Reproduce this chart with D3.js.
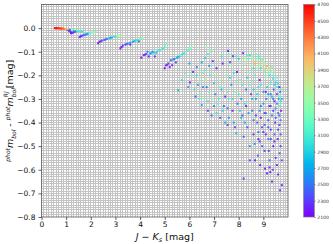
<!DOCTYPE html>
<html>
<head>
<meta charset="utf-8">
<script src="https://cdn.jsdelivr.net/npm/d3@7"></script>
<style>
  body { margin: 0; background: #fff; }
  text { font-family: "DejaVu Sans", sans-serif; }
</style>
</head>
<body>
<script>
// J-Ks colour, bolometric correction difference, effective temperature
let jk = [
  0.55, 0.6, 0.65, 0.7, 0.75, 0.8, 0.85, 0.9, 0.95, 1.0,
  1.1, 1.2, 1.3, 1.4, 1.5, 1.6, 1.65,
  1.05, 1.1, 1.15, 1.2, 1.25, 1.3, 1.35, 1.15, 1.2, 1.3, 1.4, 1.45,
  1.55, 1.6, 1.65, 1.7, 1.8, 1.9, 2.0, 2.1, 2.2,
  2.3, 2.35, 2.45, 2.55, 2.65, 2.75, 2.85, 2.95, 3.05, 3.15, 3.25,
  3.2, 3.3, 3.4, 3.5, 3.6, 3.7, 3.8, 3.9, 4.0, 4.1, 3.6, 3.95,
  4.05, 4.15, 4.25, 4.35, 4.45, 4.5, 4.65, 4.8, 4.95, 5.1, 5.15, 4.6, 4.3,
  5.0, 5.05, 5.15, 5.25, 5.3, 5.4, 5.5, 5.6, 5.7, 5.8, 5.9, 6.0, 6.1, 5.45, 5.2,
  5.54, 5.7, 5.85, 6.02, 5.95, 6.1,
  6.15, 6.3, 6.5, 6.63, 6.75, 6.84, 6.2, 6.35, 6.45, 6.5, 6.4, 6.25, 6.55,
  6.6, 6.7, 6.75, 6.85, 6.9, 6.9, 6.95, 6.8, 6.65, 7.0, 6.95, 6.7,
  7.05, 7.1, 7.15, 7.2, 7.25, 7.3, 7.35, 7.4, 7.45, 7.5, 7.1, 7.4, 7.3, 7.45,
  7.57, 7.55, 7.6, 7.65, 7.7, 7.75, 7.77, 7.8, 7.85, 7.9, 7.93, 7.95, 7.6, 7.7, 7.85, 7.8, 7.65,
  8.05, 8.1, 8.18, 8.2, 8.15, 8.25, 8.3, 8.35, 8.4, 8.45, 8.45, 8.45, 8.4, 8.3, 8.2, 8.1, 8.35, 8.25, 8.05, 8.5, 8.5, 8.15,
  8.52, 8.55, 8.6, 8.6, 8.65, 8.66, 8.7, 8.7, 8.75, 8.75, 8.78, 8.8, 8.8, 8.85, 8.85, 8.87, 8.9, 8.9, 8.95, 8.95, 9.0, 9.0, 8.6, 8.7, 8.55, 8.65, 8.95, 8.9, 8.8, 8.6,
  9.05, 9.05, 9.07, 9.1, 9.1, 9.12, 9.15, 9.15, 9.15, 9.2, 9.2, 9.22, 9.25, 9.25, 9.25, 9.3, 9.3, 9.3, 9.35, 9.35, 9.35, 9.38, 9.4, 9.4, 9.42, 9.45, 9.45, 9.45, 9.48, 9.5, 9.5, 9.5, 9.1, 9.2, 9.35, 9.05, 9.28, 9.4,
  9.55, 9.55, 9.58, 9.6, 9.6, 9.6, 9.62, 9.65, 9.65, 9.66, 9.68, 9.68, 9.7, 9.75, 9.72, 9.75, 9.68, 9.7, 9.75,
  0.58, 0.68, 0.78, 0.88, 1.05, 1.25, 1.45, 1.55, 1.75, 1.85, 2.05, 2.15, 2.4, 2.6, 2.8, 3.0, 3.1, 3.25, 3.45, 3.75, 3.85, 4.05, 4.2, 4.4, 4.55, 4.7, 4.9, 5.0, 5.1, 5.35, 5.55, 5.75, 5.95, 6.05,
  7.6, 7.9, 8.0, 8.2, 8.3, 8.35, 8.55, 8.65, 8.7, 8.75, 8.8, 8.85, 8.9, 8.95, 9.0, 9.05, 9.1, 9.2, 9.25, 9.3, 9.4, 9.45, 9.55, 9.6, 9.65, 9.7,
  6.6, 6.8, 7.0, 7.2, 7.35, 7.55, 7.75, 7.9, 8.0, 8.1, 8.25, 8.4, 8.45, 8.55, 8.6, 8.75, 8.85, 8.9, 9.0, 9.1, 9.2, 9.3, 9.4, 9.5, 9.55, 9.6, 9.65, 9.7, 9.45, 9.3, 9.2, 9.0, 8.8, 9.05, 9.25, 9.55, 9.75,
  6.0, 6.3, 6.4, 6.55, 6.75, 7.0, 7.25, 7.55
];
let dmag = [
  0.0, 0.0, 0.0, -0.001, -0.001, -0.002, -0.002, -0.003, -0.003, -0.004,
  -0.005, -0.006, -0.008, -0.01, -0.012, -0.014, -0.016,
  -0.006, -0.01, -0.014, -0.018, -0.02, -0.018, -0.016, -0.008, -0.022, -0.012, -0.014, -0.012,
  -0.038, -0.034, -0.032, -0.03, -0.027, -0.024, -0.02, -0.017, -0.015,
  -0.064, -0.058, -0.053, -0.05, -0.046, -0.043, -0.04, -0.037, -0.034, -0.031, -0.03,
  -0.086, -0.074, -0.07, -0.066, -0.062, -0.058, -0.054, -0.05, -0.046, -0.042, -0.07, -0.056,
  -0.125, -0.114, -0.11, -0.12, -0.106, -0.1, -0.105, -0.093, -0.085, -0.064, -0.06, -0.12, -0.1,
  -0.17, -0.158, -0.15, -0.136, -0.157, -0.13, -0.125, -0.12, -0.112, -0.106, -0.096, -0.088, -0.08, -0.145, -0.165,
  -0.263, -0.22, -0.19, -0.23, -0.25, -0.2,
  -0.186, -0.165, -0.145, -0.127, -0.11, -0.1, -0.26, -0.24, -0.28, -0.326, -0.21, -0.29, -0.19,
  -0.3, -0.25, -0.35, -0.2, -0.37, -0.093, -0.3, -0.16, -0.22, -0.233, -0.14, -0.08,
  -0.28, -0.17, -0.32, -0.22, -0.38, -0.26, -0.15, -0.33, -0.4, -0.2, -0.36, -0.24, -0.12, -0.29,
  -0.097, -0.41, -0.3, -0.144, -0.24, -0.35, -0.119, -0.19, -0.27, -0.445, -0.186, -0.32, -0.38, -0.16, -0.42, -0.4, -0.21,
  -0.22, -0.3, -0.106, -0.637, -0.37, -0.15, -0.26, -0.42, -0.13, -0.114, -0.5, -0.56, -0.19, -0.33, -0.46, -0.17, -0.21, -0.4, -0.35, -0.28, -0.16, -0.24,
  -0.12, -0.35, -0.14, -0.45, -0.2, -0.56, -0.13, -0.3, -0.17, -0.4, -0.54, -0.25, -0.12, -0.22, -0.48, -0.58, -0.15, -0.33, -0.135, -0.42, -0.27, -0.18, -0.26, -0.37, -0.23, -0.49, -0.5, -0.38, -0.44, -0.17,
  -0.15, -0.36, -0.595, -0.21, -0.45, -0.3, -0.615, -0.16, -0.25, -0.39, -0.19, -0.52, -0.33, -0.17, -0.56, -0.23, -0.43, -0.28, -0.165, -0.65, -0.37, -0.6, -0.2, -0.5, -0.26, -0.31, -0.18, -0.45, -0.4, -0.23, -0.55, -0.34, -0.27, -0.47, -0.29, -0.41, -0.61, -0.35,
  -0.21, -0.28, -0.47, -0.235, -0.36, -0.62, -0.3, -0.25, -0.41, -0.53, -0.33, -0.27, -0.39, -0.665, -0.35, -0.3, -0.687, -0.45, -0.26,
  -0.001, 0.0, -0.002, -0.002, -0.004, -0.007, -0.011, -0.013, -0.028, -0.025, -0.019, -0.016, -0.056, -0.048, -0.041, -0.036, -0.032, -0.08, -0.068, -0.056, -0.052, -0.044, -0.112, -0.108, -0.103, -0.098, -0.088, -0.075, -0.155, -0.133, -0.122, -0.109, -0.092, -0.084,
  -0.11, -0.12, -0.13, -0.125, -0.14, -0.115, -0.13, -0.15, -0.11, -0.14, -0.16, -0.13, -0.17, -0.16, -0.145, -0.18, -0.165, -0.175, -0.2, -0.185, -0.215, -0.24, -0.25, -0.27, -0.29, -0.31,
  -0.18, -0.27, -0.19, -0.3, -0.35, -0.27, -0.3, -0.23, -0.28, -0.38, -0.32, -0.36, -0.24, -0.3, -0.39, -0.28, -0.35, -0.24, -0.32, -0.36, -0.28, -0.33, -0.3, -0.38, -0.32, -0.43, -0.37, -0.5, -0.48, -0.47, -0.42, -0.44, -0.47, -0.52, -0.59, -0.58, -0.56,
  -0.15, -0.2, -0.3, -0.25, -0.31, -0.33, -0.25, -0.34
];
let teff = [
  4700, 4650, 4600, 4550, 4500, 4450, 4400, 4300, 4200, 4100,
  3900, 3600, 3400, 3300, 3200, 3100, 3000,
  2200, 2150, 2200, 2100, 2150, 2250, 2300, 2400, 2150, 2500, 2600, 2700,
  2150, 2200, 2300, 2400, 2600, 2900, 3200, 3400, 3200,
  2100, 2200, 2300, 2400, 2500, 2700, 2800, 3000, 3300, 3700, 3500,
  2100, 2200, 2300, 2500, 2600, 2700, 2900, 3100, 3300, 3500, 2200, 2400,
  2100, 2200, 2300, 2150, 2800, 2600, 2900, 3000, 3100, 3300, 3500, 2200, 2500,
  2100, 2200, 2300, 2400, 2200, 2600, 2700, 2900, 3000, 3100, 3200, 3300, 3500, 2300, 2150,
  2800, 3000, 3200, 2200, 2600, 3300,
  2300, 2500, 2700, 2900, 3100, 3400, 3000, 2700, 3300, 2600, 3500, 2400, 3300,
  3400, 2500, 2300, 3100, 2400, 3300, 3500, 2700, 3600, 2900, 2200, 3500,
  2600, 2200, 3200, 3400, 2300, 2800, 2200, 2500, 2700, 3300, 3000, 3500, 3000, 2200,
  2200, 2300, 3100, 2400, 2600, 2200, 2300, 3000, 3400, 2800, 2200, 2500, 2600, 3500, 2300, 2700, 2900,
  3300, 2700, 2200, 2200, 2300, 3500, 2500, 2400, 3200, 3000, 2600, 2300, 3400, 2200, 2400, 3600, 2900, 2700, 2900, 2300, 3700, 3100,
  3500, 2500, 3900, 2200, 3200, 2200, 3300, 2700, 3600, 2400, 2400, 3000, 3100, 2200, 2300, 2200, 4000, 2500, 3400, 2300, 2600, 3800, 2900, 2300, 3400, 2600, 2400, 2200, 2500, 3000,
  3700, 2300, 2200, 3400, 2200, 2500, 2200, 4100, 2900, 2400, 3300, 2300, 2200, 3900, 2500, 3100, 2300, 2600, 3500, 2200, 2500, 2300, 3200, 2200, 2400, 2200, 3600, 2400, 2200, 2900, 2300, 2600, 2200, 2600, 2800, 2500, 2200, 2300,
  3300, 2300, 2200, 3000, 2500, 2200, 2700, 2200, 2300, 2400, 3100, 2500, 2600, 2200, 2200, 2800, 2200, 2400, 3200,
  4650, 4580, 4480, 4350, 3800, 3500, 3250, 3150, 2500, 2700, 3300, 3500, 2250, 2450, 2750, 3100, 3500, 2150, 2400, 2800, 3000, 3400, 2250, 2700, 2800, 2950, 3050, 3200, 2250, 2500, 2800, 3050, 3250, 3400,
  3300, 3100, 2900, 3400, 3700, 3200, 3600, 4100, 3300, 3800, 3500, 3200, 3000, 3700, 3500, 3300, 3900, 3600, 3100, 3400, 3000, 2900, 3100, 3400, 3200, 3000,
  3200, 3300, 3500, 3100, 2900, 3200, 3000, 3400, 3100, 2800, 3000, 2700, 3200, 2800, 2500, 2900, 2600, 3100, 2700, 2500, 2600, 2400, 2500, 2400, 2600, 2300, 2400, 2300, 2200, 2300, 2400, 2300, 2200, 2300, 2200, 2200, 2300,
  2700, 3000, 3100, 2500, 3000, 2600, 3300, 2500
];
let xTicks = [0, 1, 2, 3, 4, 5, 6, 7, 8, 9];
let yTicks = [0.0, -0.1, -0.2, -0.3, -0.4, -0.5, -0.6, -0.7, -0.8];
let cbTicks = [4700, 4500, 4300, 4100, 3900, 3700, 3500, 3300, 3100, 2900, 2700, 2500, 2300, 2100];

let W = 333, H = 244;
let L = 41.5, R = 288, T = 4.5, B = 217;

// matplotlib "rainbow"
function rainbow(t) {
  let r = Math.min(1, Math.abs(2 * t - 0.5));
  let g = Math.sin(Math.PI * t);
  let b = Math.cos(Math.PI * t / 2);
  return d3.rgb(r * 255, g * 255, b * 255).toString();
}

let svg = d3.select("body").append("svg").attr("width", W).attr("height", H);

let x = d3.scaleLinear().domain([0, 10]).range([L, R]);
let y = d3.scaleLinear().domain([-0.8, 0.1]).range([B, T]);
let tScale = d3.scaleLinear().domain([2100, 4700]).range([0, 1]);

// fine grid
let grid = svg.append("g").attr("shape-rendering", "crispEdges");
grid.selectAll("line.gx").data(d3.range(1, 100)).enter().append("line")
  .attr("x1", d => x(d / 10)).attr("x2", d => x(d / 10))
  .attr("y1", T).attr("y2", B)
  .attr("stroke", "#c4c4c4").attr("stroke-width", 1);
grid.selectAll("line.gy").data(d3.range(1, 90)).enter().append("line")
  .attr("y1", d => y(-0.8 + d / 100)).attr("y2", d => y(-0.8 + d / 100))
  .attr("x1", L).attr("x2", R)
  .attr("stroke", "#c4c4c4").attr("stroke-width", 1);

// points
let idx = d3.range(jk.length);
svg.append("g").selectAll("rect").data(idx).enter().append("rect")
  .attr("x", i => x(jk[i]) - 1)
  .attr("y", i => y(dmag[i]) - 1)
  .attr("width", 2).attr("height", 2)
  .attr("fill", i => rainbow(tScale(teff[i])))
  .attr("opacity", 0.9);

// frame
svg.append("rect").attr("x", L).attr("y", T).attr("width", R - L).attr("height", B - T)
  .attr("fill", "none").attr("stroke", "#555").attr("stroke-width", 0.8);

// axes
let xAxis = svg.append("g").attr("transform", `translate(0,${B})`)
  .call(d3.axisBottom(x).tickValues(xTicks).tickSize(3).tickPadding(2).tickFormat(d3.format("d")));
let yAxis = svg.append("g").attr("transform", `translate(${L},0)`)
  .call(d3.axisLeft(y).tickValues(yTicks).tickSize(3).tickFormat(d => d3.format(".1f")(d).replace("-", "\u2212")));
[xAxis, yAxis].forEach(a => {
  a.select(".domain").remove();
  a.selectAll("line").attr("stroke", "#222").attr("stroke-width", 0.7);
  a.selectAll("text").attr("font-size", 7.5).attr("fill", "#111")
    .attr("font-family", "DejaVu Sans");
});

// x label
let xl = svg.append("text").attr("x", (L + R) / 2).attr("y", 240)
  .attr("text-anchor", "middle").attr("font-size", 9.5).attr("fill", "#111");
xl.append("tspan").attr("font-style", "italic").text("J");
xl.append("tspan").text(" \u2212 ");
xl.append("tspan").attr("font-style", "italic").text("K");
xl.append("tspan").attr("font-style", "italic").attr("font-size", 6.5).attr("dy", 2).text("s");
xl.append("tspan").attr("dy", -2).text(" [mag]");

// y label
let yl = svg.append("text").attr("transform", `translate(13,${(T + B) / 2}) rotate(-90)`)
  .attr("text-anchor", "middle").attr("font-size", 9.5).attr("fill", "#111");
yl.append("tspan").attr("font-style", "italic").attr("font-size", 6).attr("dy", -3.5).text("phot");
yl.append("tspan").attr("font-style", "italic").attr("dy", 3.5).text("m");
yl.append("tspan").attr("font-style", "italic").attr("font-size", 6).attr("dy", 2.5).text("bol");
yl.append("tspan").attr("dy", -2.5).text(" - ");
yl.append("tspan").attr("font-style", "italic").attr("font-size", 6).attr("dy", -3.5).text("phot");
yl.append("tspan").attr("font-style", "italic").attr("dy", 3.5).text("m");
let bol2 = yl.append("tspan").attr("font-style", "italic").attr("font-size", 6).attr("dy", 2.5).text("bol");
let rj = yl.append("tspan").attr("font-style", "italic").attr("font-size", 6).attr("dy", -7.5).text("RJ");
yl.append("tspan").attr("dy", 5).text(" [mag]");
let bw = bol2.node().getComputedTextLength();
rj.attr("dx", -bw);

// colorbar
let cbX = 303.7, cbW = 10.6;
let cb = d3.scaleLinear().domain([2100, 4700]).range([B, T]);
let defs = svg.append("defs");
let grad = defs.append("linearGradient").attr("id", "cbg")
  .attr("x1", 0).attr("y1", 1).attr("x2", 0).attr("y2", 0);
grad.selectAll("stop").data(d3.range(0, 1.0001, 0.05)).enter().append("stop")
  .attr("offset", d => d).attr("stop-color", d => rainbow(d));
svg.append("rect").attr("x", cbX).attr("y", T).attr("width", cbW).attr("height", B - T)
  .attr("fill", "url(#cbg)").attr("stroke", "#777").attr("stroke-width", 0.7);
let cAxis = svg.append("g").attr("transform", `translate(${cbX + cbW},0)`)
  .call(d3.axisRight(cb).tickValues(cbTicks).tickSize(1.5).tickPadding(1.5).tickFormat(d3.format("d")));
cAxis.select(".domain").remove();
cAxis.selectAll("line").attr("stroke", "#444").attr("stroke-width", 0.5);
cAxis.selectAll("text").attr("font-size", 4.5).attr("fill", "#333");
</script>
</body>
</html>
